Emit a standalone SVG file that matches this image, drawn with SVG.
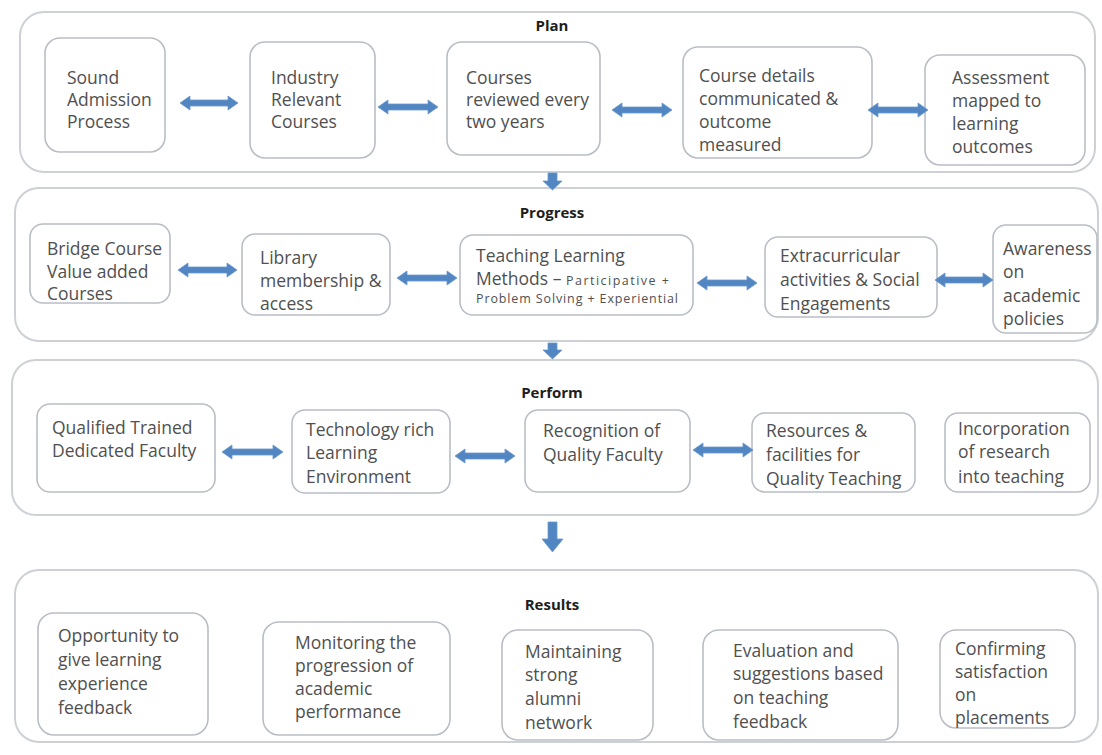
<svg xmlns="http://www.w3.org/2000/svg" width="1102" height="755" viewBox="0 0 1102 755">
<style>
.band{fill:#ffffff;stroke:#cdd1d6;stroke-width:2}
.box{fill:#ffffff;stroke:#b9bec6;stroke-width:1.6}
.t{font-family:"Open Sans","Liberation Sans",sans-serif;font-size:17.5px;fill:#505050}
.s{font-size:12.5px}
.title{font-family:"Open Sans","Liberation Sans",sans-serif;font-size:15px;font-weight:bold;fill:#1e1e1e;text-anchor:middle}
.arr{fill:#5286c2;stroke:#6a98cc;stroke-width:0.8}
</style>
<rect width="1102" height="755" fill="#ffffff"/>

<g id="band-plan">
<rect class="band" x="20" y="12" width="1075" height="160" rx="24"/>
<text class="title" x="552" y="31">Plan</text>
</g>
<g id="band-progress">
<rect class="band" x="15" y="188" width="1083" height="153" rx="24"/>
<text class="title" x="552" y="218">Progress</text>
</g>
<g id="band-perform">
<rect class="band" x="12" y="360" width="1086" height="155" rx="24"/>
<text class="title" x="552" y="398">Perform</text>
</g>
<g id="band-results">
<rect class="band" x="15" y="570" width="1083" height="172" rx="24"/>
<text class="title" x="552" y="610">Results</text>
</g>

<g id="plan-1"><rect class="box" x="45" y="38" width="120" height="114" rx="15"/>
<text class="t"><tspan x="67" y="84">Sound</tspan><tspan x="67" y="106">Admission</tspan><tspan x="67" y="128">Process</tspan></text></g>
<g id="plan-2"><rect class="box" x="250" y="42" width="125" height="116" rx="15"/>
<text class="t"><tspan x="271" y="84">Industry</tspan><tspan x="271" y="106">Relevant</tspan><tspan x="271" y="128">Courses</tspan></text></g>
<g id="plan-3"><rect class="box" x="447" y="42" width="153" height="113" rx="15"/>
<text class="t"><tspan x="466" y="84">Courses</tspan><tspan x="466" y="106">reviewed every</tspan><tspan x="466" y="128">two years</tspan></text></g>
<g id="plan-4"><rect class="box" x="683" y="47" width="189" height="111" rx="15"/>
<text class="t"><tspan x="699" y="82">Course details</tspan><tspan x="699" y="105">communicated &amp;</tspan><tspan x="699" y="128">outcome</tspan><tspan x="699" y="151">measured</tspan></text></g>
<g id="plan-5"><rect class="box" x="925" y="55" width="160" height="110" rx="15"/>
<text class="t"><tspan x="952" y="84">Assessment</tspan><tspan x="952" y="107">mapped to</tspan><tspan x="952" y="130">learning</tspan><tspan x="952" y="153">outcomes</tspan></text></g>

<g id="progress-1"><rect class="box" x="30" y="224" width="140" height="79" rx="13"/>
<text class="t"><tspan x="47" y="255">Bridge Course</tspan><tspan x="47" y="278">Value added</tspan><tspan x="47" y="300">Courses</tspan></text></g>
<g id="progress-2"><rect class="box" x="242" y="234" width="148" height="81" rx="13"/>
<text class="t"><tspan x="260" y="264">Library</tspan><tspan x="260" y="287">membership &amp;</tspan><tspan x="260" y="310">access</tspan></text></g>
<g id="progress-3"><rect class="box" x="460" y="235" width="233" height="80" rx="13"/>
<text class="t"><tspan x="476" y="262">Teaching Learning</tspan><tspan x="476" y="285">Methods – </tspan><tspan class="s" textLength="103" lengthAdjust="spacing">Participative +</tspan><tspan class="s" x="476" y="303" textLength="202" lengthAdjust="spacing">Problem Solving + Experiential</tspan></text></g>
<g id="progress-4"><rect class="box" x="765" y="237" width="172" height="80" rx="13"/>
<text class="t"><tspan x="780" y="262">Extracurricular</tspan><tspan x="780" y="286">activities &amp; Social</tspan><tspan x="780" y="310">Engagements</tspan></text></g>
<g id="progress-5"><rect class="box" x="993" y="225" width="104" height="108" rx="13"/>
<text class="t"><tspan x="1003" y="255">Awareness</tspan><tspan x="1003" y="278">on</tspan><tspan x="1003" y="302">academic</tspan><tspan x="1003" y="325">policies</tspan></text></g>

<g id="perform-1"><rect class="box" x="37" y="404" width="178" height="88" rx="13"/>
<text class="t"><tspan x="52" y="434">Qualified Trained</tspan><tspan x="52" y="457">Dedicated Faculty</tspan></text></g>
<g id="perform-2"><rect class="box" x="292" y="410" width="158" height="83" rx="13"/>
<text class="t"><tspan x="306" y="436">Technology rich</tspan><tspan x="306" y="459">Learning</tspan><tspan x="306" y="483">Environment</tspan></text></g>
<g id="perform-3"><rect class="box" x="525" y="410" width="165" height="82" rx="13"/>
<text class="t"><tspan x="543" y="437">Recognition of</tspan><tspan x="543" y="461">Quality Faculty</tspan></text></g>
<g id="perform-4"><rect class="box" x="752" y="413" width="163" height="79" rx="13"/>
<text class="t"><tspan x="766" y="437">Resources &amp;</tspan><tspan x="766" y="461">facilities for</tspan><tspan x="766" y="485">Quality Teaching</tspan></text></g>
<g id="perform-5"><rect class="box" x="945" y="413" width="145" height="79" rx="13"/>
<text class="t"><tspan x="958" y="435">Incorporation</tspan><tspan x="958" y="458">of research</tspan><tspan x="958" y="483">into teaching</tspan></text></g>

<g id="results-1"><rect class="box" x="38" y="613" width="170" height="122" rx="16"/>
<text class="t"><tspan x="58" y="642">Opportunity to</tspan><tspan x="58" y="666">give learning</tspan><tspan x="58" y="690">experience</tspan><tspan x="58" y="714">feedback</tspan></text></g>
<g id="results-2"><rect class="box" x="263" y="622" width="187" height="113" rx="16"/>
<text class="t"><tspan x="295" y="649">Monitoring the</tspan><tspan x="295" y="672">progression of</tspan><tspan x="295" y="695">academic</tspan><tspan x="295" y="718">performance</tspan></text></g>
<g id="results-3"><rect class="box" x="502" y="630" width="151" height="110" rx="16"/>
<text class="t"><tspan x="525" y="658">Maintaining</tspan><tspan x="525" y="681">strong</tspan><tspan x="525" y="705">alumni</tspan><tspan x="525" y="729">network</tspan></text></g>
<g id="results-4"><rect class="box" x="703" y="630" width="195" height="110" rx="16"/>
<text class="t"><tspan x="733" y="657">Evaluation and</tspan><tspan x="733" y="680">suggestions based</tspan><tspan x="733" y="704">on teaching</tspan><tspan x="733" y="728">feedback</tspan></text></g>
<g id="results-5"><rect class="box" x="940" y="630" width="135" height="98" rx="16"/>
<text class="t"><tspan x="955" y="655">Confirming</tspan><tspan x="955" y="678">satisfaction</tspan><tspan x="955" y="701">on</tspan><tspan x="955" y="724">placements</tspan></text></g>

<g id="connectors">
<path class="arr" d="M180,103 L190,96 L190,100 L228,100 L228,96 L238,103 L228,110 L228,106 L190,106 L190,110 Z"/>
<path class="arr" d="M378,107 L388,100 L388,104 L428,104 L428,100 L438,107 L428,114 L428,110 L388,110 L388,114 Z"/>
<path class="arr" d="M612,110 L622,103 L622,107 L662,107 L662,103 L672,110 L662,117 L662,113 L622,113 L622,117 Z"/>
<path class="arr" d="M868,110 L878,103 L878,107 L918,107 L918,103 L928,110 L918,117 L918,113 L878,113 L878,117 Z"/>
<path class="arr" d="M178,270 L188,263 L188,267 L227,267 L227,263 L237,270 L227,277 L227,273 L188,273 L188,277 Z"/>
<path class="arr" d="M397,278 L407,271 L407,275 L447,275 L447,271 L457,278 L447,285 L447,281 L407,281 L407,285 Z"/>
<path class="arr" d="M697,283 L707,276 L707,280 L747,280 L747,276 L757,283 L747,290 L747,286 L707,286 L707,290 Z"/>
<path class="arr" d="M935,280 L945,273 L945,277 L983,277 L983,273 L993,280 L983,287 L983,283 L945,283 L945,287 Z"/>
<path class="arr" d="M222,452 L232,445 L232,449 L273,449 L273,445 L283,452 L273,459 L273,455 L232,455 L232,459 Z"/>
<path class="arr" d="M455,456 L465,449 L465,453 L505,453 L505,449 L515,456 L505,463 L505,459 L465,459 L465,463 Z"/>
<path class="arr" d="M693,450 L703,443 L703,447 L743,447 L743,443 L753,450 L743,457 L743,453 L703,453 L703,457 Z"/>
<path class="arr" d="M548,173 L557,173 L557,181 L562,181 L552.5,190 L543,181 L548,181 Z"/>
<path class="arr" d="M548,343 L557,343 L557,350 L562,350 L552.5,359 L543,350 L548,350 Z"/>
<path class="arr" d="M548,522 L557,522 L557,539 L563,539 L552.5,552 L542,539 L548,539 Z"/>
</g>
</svg>
